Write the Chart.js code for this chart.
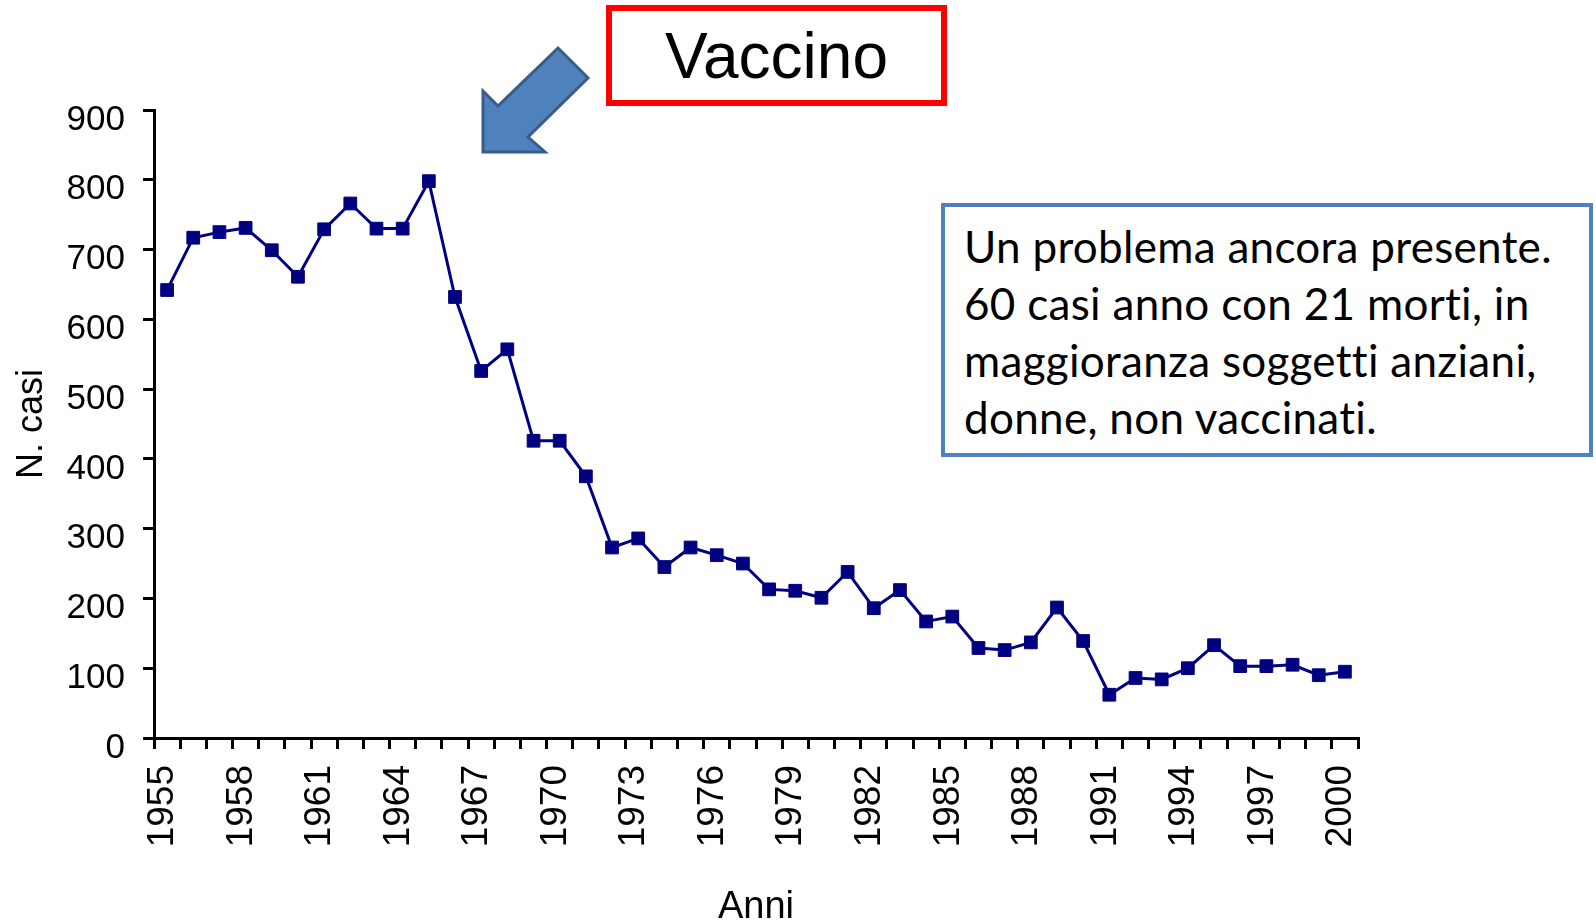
<!DOCTYPE html>
<html lang="it">
<head>
<meta charset="utf-8">
<title>N. casi per anno</title>
<script src="https://cdn.jsdelivr.net/npm/chart.js@4/dist/chart.umd.min.js"></script>
<style>
  html, body { margin: 0; padding: 0; background: #fff; overflow: hidden; }
  #wrap { position: relative; width: 1596px; height: 924px; }
  #wrap canvas { position: absolute; left: 0; top: 0; }
  #arrow { position: absolute; left: 0; top: 0; }
  .vaccino {
    position: absolute; left: 606px; top: 5px; width: 341px; height: 101px;
    box-sizing: border-box; border: 6px solid #ff0000; background: #fff;
    font-family: 'Liberation Sans', Arial, sans-serif; font-size: 64px; color: #000;
    display: flex; align-items: center; justify-content: center;
  }
  .note {
    position: absolute; left: 941px; top: 203px; width: 652px; height: 254px;
    box-sizing: border-box; border: 4px solid #4f81bd; background: #fff;
    font-family: Lato, 'Open Sans', sans-serif; font-size: 44px; line-height: 57px;
    padding: 11px 0 0 19px; color: #000; white-space: nowrap; letter-spacing: 0.3px;
  }
</style>
</head>
<body>
<div id="wrap">
  <canvas id="casi-chart" width="1596" height="924"></canvas>
  <svg id="arrow" width="1596" height="924">
    <polygon points="483,152 483,91 498,106 558,48 588,78 528,137 545,152"
             fill="#4f81bd" stroke="#385d8a" stroke-width="3" stroke-linejoin="miter"/>
  </svg>
  <div class="vaccino">Vaccino</div>
  <div class="note">Un problema ancora presente.<br>60 casi anno con 21 morti, in<br>maggioranza soggetti anziani,<br>donne, non vaccinati.</div>
</div>
<script>
const years = ['1955', '1956', '1957', '1958', '1959', '1960', '1961', '1962', '1963', '1964',
  '1965', '1966', '1967', '1968', '1969', '1970', '1971', '1972', '1973', '1974',
  '1975', '1976', '1977', '1978', '1979', '1980', '1981', '1982', '1983', '1984',
  '1985', '1986', '1987', '1988', '1989', '1990', '1991', '1992', '1993', '1994',
  '1995', '1996', '1997', '1998', '1999', '2000'];

const cases = [642, 717, 725, 731, 699, 661, 729, 766, 730, 730,
  798, 632, 526, 557, 426, 426, 375, 273, 286, 245,
  273, 262, 250, 213, 211, 201, 238, 186, 212, 167,
  174, 129, 126, 137, 187, 139, 62, 86, 84, 100,
  133, 103, 103, 105, 90, 95];

const yMin = 0;
const yMax = 900;
const yStep = 100;
const labelEvery = 3; // only every third year gets a label

const axisFont = "'Liberation Sans', Arial, sans-serif";

const ctx = document.getElementById('casi-chart').getContext('2d');

const chart = new Chart(ctx, {
  type: 'line',
  data: {
    labels: years,
    datasets: [{
      label: 'N. casi',
      data: cases,
      borderColor: '#000080',
      backgroundColor: '#000080',
      borderWidth: 3,
      tension: 0,
      pointStyle: 'rect',
      pointRadius: 9,
      pointHoverRadius: 9,
      pointBorderWidth: 1,
    }],
  },
  options: {
    responsive: true,
    maintainAspectRatio: false,
    animation: false,
    layout: { padding: { left: 6, top: 110, right: 238, bottom: 0 } },
    plugins: { legend: { display: false }, tooltip: { enabled: false } },
    scales: {
      x: {
        offset: true,
        grid: { offset: true, drawOnChartArea: false, drawTicks: true, tickLength: 11, color: '#000', lineWidth: 3 },
        border: { display: true, color: '#000', width: 3 },
        ticks: {
          autoSkip: false,
          minRotation: 90,
          maxRotation: 90,
          padding: 16,
          labelOffset: -4,
          color: '#000',
          font: { family: axisFont, size: 37 },
          callback: (v, i) => (i % labelEvery === 0 ? years[i] : ''),
        },
        title: { display: true, text: 'Anni', color: '#000', font: { family: axisFont, size: 38, lineHeight: 0.85 }, padding: 0 },
        afterFit: (scale) => { scale.height = 186; },
      },
      y: {
        min: yMin,
        max: yMax,
        grid: { drawOnChartArea: false, drawTicks: true, tickLength: 11, color: '#000', lineWidth: 3 },
        border: { display: true, color: '#000', width: 3 },
        ticks: {
          stepSize: yStep,
          padding: 18,
          labelOffset: 10,
          color: '#000',
          font: { family: axisFont, size: 35 },
        },
        title: { display: true, text: 'N. casi', color: '#000', font: { family: axisFont, size: 36 } },
        afterFit: (scale) => { scale.width = 148; },
      },
    },
  },
});
</script>
</body>
</html>
